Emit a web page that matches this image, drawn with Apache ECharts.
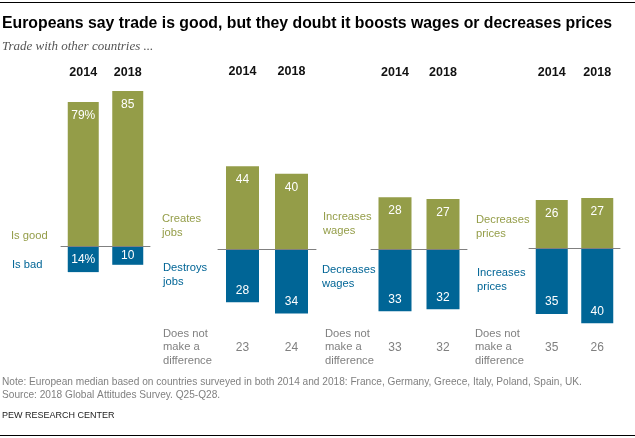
<!DOCTYPE html>
<html lang="en">
<head>
<meta charset="utf-8">
<title>Europeans say trade is good</title>
<style>
    html, body { margin: 0; padding: 0; background: #fff; }
    #chart { width: 635px; height: 438px; }
</style>
</head>
<body>
<div id="chart"></div>
<script src="https://cdn.jsdelivr.net/npm/echarts@6/dist/echarts.min.js"></script>
<script type="text/javascript">
    var years = ['2014', '2018'];
    var goodJobsAll = [79, 85];
    var badJobsAll = [14, 10];
    var createsJobs = [44, 40];
    var destroysJobs = [28, 34];
    var noDiffJobs = ['23', '24'];
    var increasesWages = [28, 27];
    var decreasesWages = [33, 32];
    var noDiffWages = ['33', '32'];
    var decreasesPrices = [26, 27];
    var increasesPrices = [35, 40];
    var noDiffPrices = ['35', '26'];

    var titleText = 'Europeans say trade is good, but they doubt it boosts wages or decreases prices';
    var subtitleText = 'Trade with other countries ...';
    var noteLines = [
        'Note: European median based on countries surveyed in both 2014 and 2018: France, Germany, Greece, Italy, Poland, Spain, UK.',
        'Source: 2018 Global Attitudes Survey. Q25-Q28.'
    ];
    var sourceText = 'PEW RESEARCH CENTER';

    var OLIVE = '#949d48';
    var BLUE = '#006596';
    var GREY = '#808080';
    var SANS = '"Liberation Sans", Arial, sans-serif';

    var panels = [
        {good: goodJobsAll, bad: badJobsAll, diff: ['', ''], left: 61, right: 150, base: 246.5, scale: 1.83, yMax: 90, barW: 31, yearY: 73, badPos: 'inside'},
        {good: createsJobs, bad: destroysJobs, diff: noDiffJobs, left: 218, right: 316, base: 249.3, scale: 1.89, yMax: 50, barW: 33, yearY: 72, badPos: 'insideBottom'},
        {good: increasesWages, bad: decreasesWages, diff: noDiffWages, left: 371, right: 467, base: 249.5, scale: 1.87, yMax: 50, barW: 33, yearY: 73, badPos: 'insideBottom'},
        {good: decreasesPrices, bad: increasesPrices, diff: noDiffPrices, left: 529, right: 620, base: 248.5, scale: 1.87, yMax: 50, barW: 32, yearY: 73, badPos: 'insideBottom'}
    ];
    var Y_MIN = -45;
    var DIFF_Y = 347.5;

    var grids = [], xAxes = [], yAxes = [], series = [];

    panels.forEach(function (p, i) {
        var top = p.base - p.yMax * p.scale;
        var height = (p.yMax - Y_MIN) * p.scale;
        grids.push({left: p.left, width: p.right - p.left, top: top, height: height});
        yAxes.push({type: 'value', gridIndex: i, min: Y_MIN, max: p.yMax, show: false});

        // three axes per panel: years on top, the zero line, "does not make a difference" row
        var first = xAxes.length;
        xAxes.push({
            type: 'category', gridIndex: i, data: years, position: 'top',
            axisLine: {show: false, onZero: false}, axisTick: {show: false},
            axisLabel: {margin: top - p.yearY, verticalAlign: 'middle', color: '#111', fontWeight: 'bold', fontSize: 12.5, fontFamily: SANS}
        });
        xAxes.push({
            type: 'category', gridIndex: i, data: years, position: 'bottom',
            axisLine: {show: true, onZero: true, lineStyle: {color: GREY, width: 1}},
            axisTick: {show: false}, axisLabel: {show: false}, z: 5
        });
        xAxes.push({
            type: 'category', gridIndex: i, data: p.diff, position: 'bottom',
            axisLine: {show: false, onZero: false}, axisTick: {show: false},
            axisLabel: {margin: DIFF_Y - (top + height), verticalAlign: 'middle', color: GREY, fontSize: 12, fontFamily: SANS}
        });

        series.push({
            type: 'bar', stack: 'p' + i, xAxisIndex: first, yAxisIndex: i,
            data: p.good, barWidth: p.barW,
            itemStyle: {color: OLIVE},
            label: {
                show: true, position: 'insideTop', distance: 7.5, color: '#fff', fontSize: 12, fontFamily: SANS,
                formatter: function (d) { return (i === 0 && d.dataIndex === 0) ? d.value + '%' : d.value; }
            }
        });
        series.push({
            type: 'bar', stack: 'p' + i, xAxisIndex: first, yAxisIndex: i,
            data: p.bad.map(function (v) { return -v; }), barWidth: p.barW,
            itemStyle: {color: BLUE},
            label: {
                show: true, position: p.badPos, distance: 6, color: '#fff', fontSize: 12, fontFamily: SANS,
                formatter: function (d) { return (i === 0 && d.dataIndex === 0) ? -d.value + '%' : -d.value; }
            }
        });
    });

    function text(str, x, y, color, size, extra) {
        var style = {text: str, fill: color, fontSize: size, fontFamily: SANS, verticalAlign: 'middle'};
        for (var k in extra) { style[k] = extra[k]; }
        return {type: 'text', left: x, top: y - size * 0.6 + 2, style: style, silent: true};
    }

    var graphics = [
        {type: 'rect', shape: {x: 0, y: 2, width: 635, height: 1}, style: {fill: '#000'}},
        {type: 'rect', shape: {x: 0, y: 435, width: 635, height: 1}, style: {fill: '#000'}},
        text(titleText, 2, 23, '#000', 15.8, {fontWeight: 'bold'}),
        text(subtitleText, 2, 46, '#555', 13, {fontStyle: 'italic', fontFamily: '"Liberation Serif", serif'}),
        text(noteLines[0], 2, 381, GREY, 10.15),
        text(noteLines[1], 2, 394, GREY, 10.15),
        text(sourceText, 2, 414, '#222', 9),
        text('Is good', 11, 235, OLIVE, 11.2),
        text('Is bad', 12, 264, BLUE, 11.2),
        text('Creates', 162, 218, OLIVE, 11.2),
        text('jobs', 162, 232, OLIVE, 11.2),
        text('Destroys', 163, 267, BLUE, 11.2),
        text('jobs', 163, 281, BLUE, 11.2),
        text('Increases', 323, 216, OLIVE, 11.2),
        text('wages', 323, 230, OLIVE, 11.2),
        text('Decreases', 322, 269, BLUE, 11.2),
        text('wages', 322, 283, BLUE, 11.2),
        text('Decreases', 476, 219, OLIVE, 11.2),
        text('prices', 476, 233, OLIVE, 11.2),
        text('Increases', 477, 272, BLUE, 11.2),
        text('prices', 477, 286, BLUE, 11.2)
    ];
    [163, 325, 475].forEach(function (x) {
        graphics.push(text('Does not', x, 333, GREY, 11.2));
        graphics.push(text('make a', x, 346, GREY, 11.2));
        graphics.push(text('difference', x, 360, GREY, 11.2));
    });

    var myChart = echarts.init(document.getElementById('chart'));
    myChart.setOption({
        animation: false,
        grid: grids,
        xAxis: xAxes,
        yAxis: yAxes,
        series: series,
        graphic: graphics
    });
</script>
</body>
</html>
